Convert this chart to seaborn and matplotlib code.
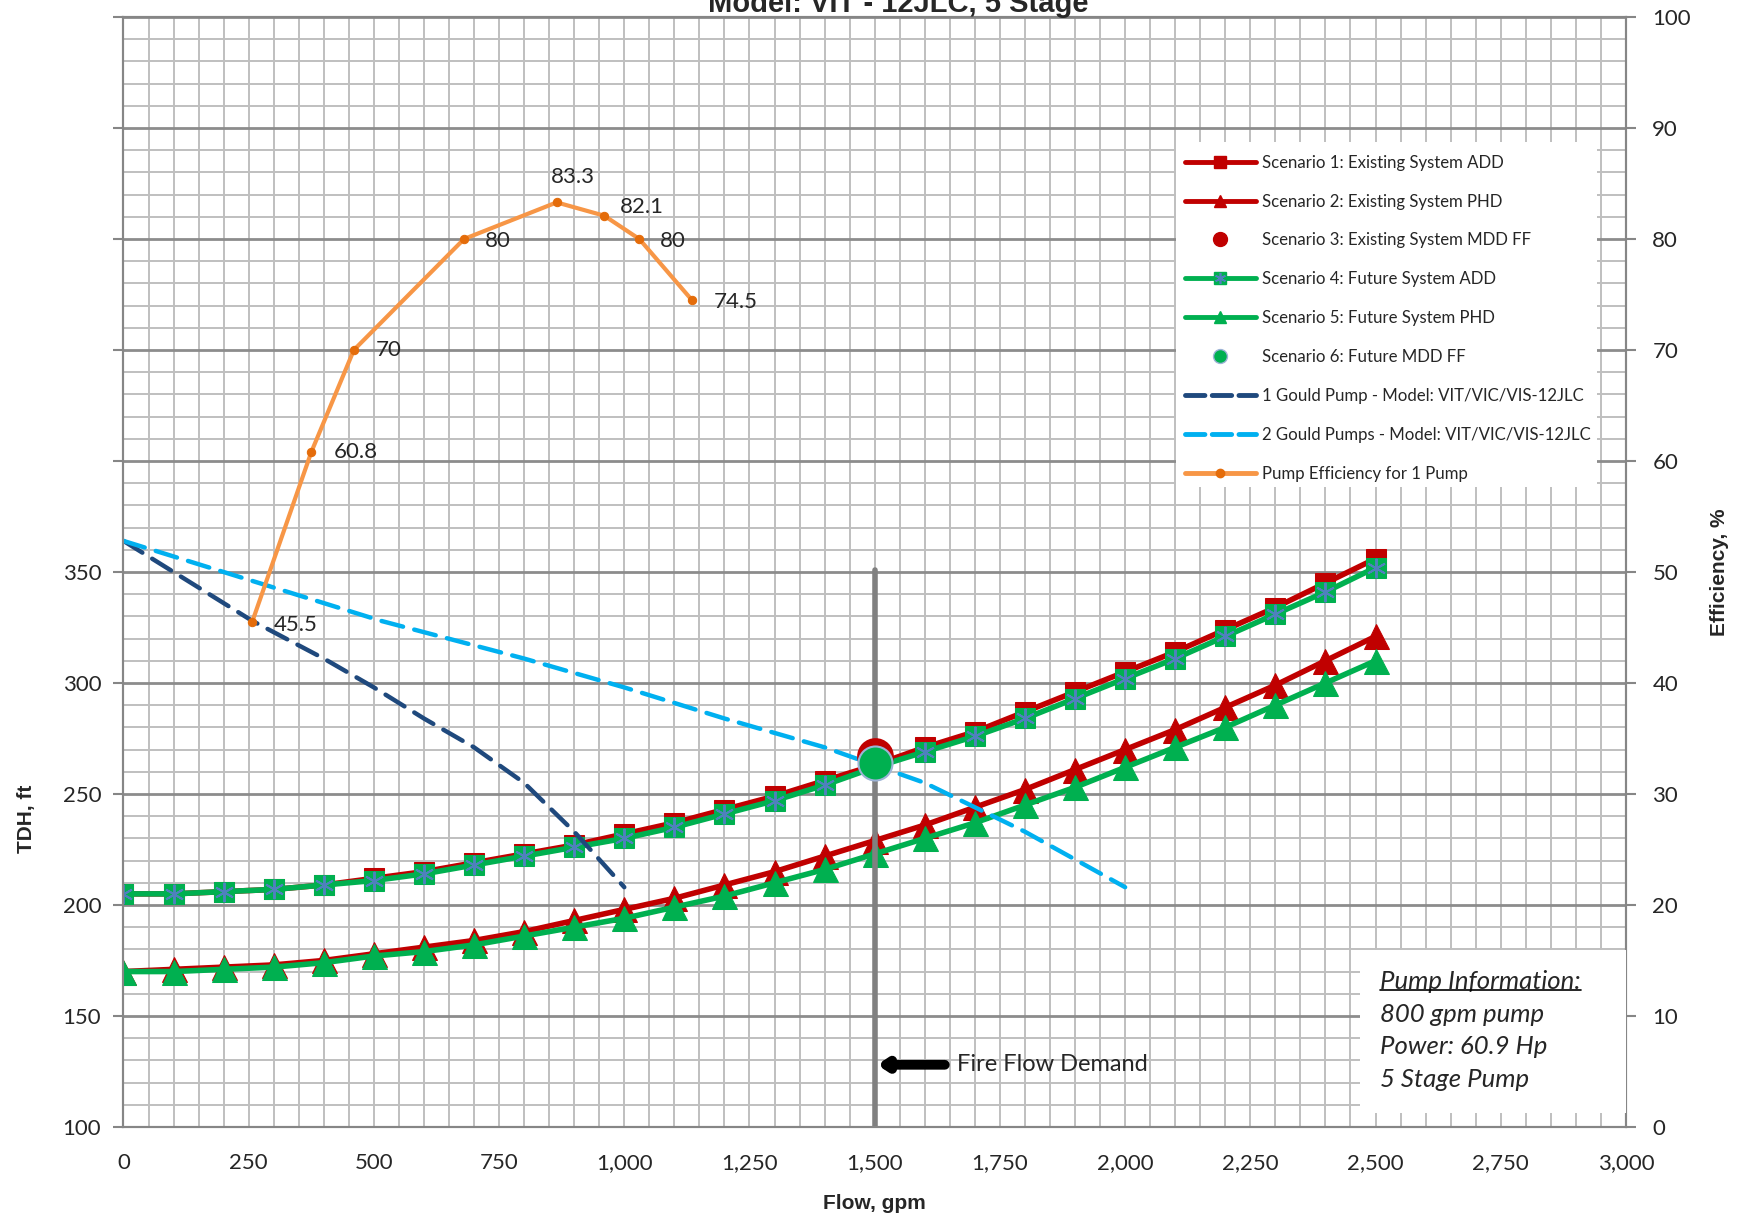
import seaborn as sns
import matplotlib.pyplot as plt
from matplotlib.lines import Line2D
from matplotlib.patches import Rectangle
from matplotlib.ticker import MultipleLocator, FuncFormatter
from matplotlib.legend_handler import HandlerTuple
from matplotlib.transforms import IdentityTransform

# system curves, flow in gpm, head in ft
flow = [0, 100, 200, 300, 400, 500, 600, 700, 800, 900, 1000, 1100, 1200,
        1300, 1400, 1500, 1600, 1700, 1800, 1900, 2000, 2100, 2200, 2300, 2400, 2500]
existing_add = [205, 205, 206, 207, 209, 212, 215, 219, 223, 227, 232, 237, 243,
                249, 256, 263, 271, 278, 287, 296, 305, 314, 324, 334, 345, 356]
existing_phd = [170, 171, 172, 173, 175, 178, 181, 184, 188, 193, 198, 203, 209,
                215, 222, 229, 236, 244, 252, 261, 270, 279, 289, 299, 310, 321]
future_add = [205, 205, 206, 207, 209, 211, 214, 218, 222, 226, 230, 235, 241,
              247, 254, 262, 269, 276, 284, 293, 302, 311, 321, 331, 341, 352]
future_phd = [170, 170, 171, 172, 174, 177, 179, 182, 186, 190, 194, 199, 204,
              210, 216, 223, 230, 237, 245, 253, 262, 271, 280, 290, 300, 310]

ff_flow = [1500]
existing_mdd_ff = [267]
future_mdd_ff = [264]
ff_line_head = [100, 351]

# pump curves
one_pump_flow = [0, 257, 400, 500, 600, 700, 800, 900, 1000]
one_pump_tdh = [364, 328, 311, 298, 284, 271, 255, 233, 208]
two_pump_flow = [0, 514, 800, 1000, 1200, 1400, 1600, 1800, 2000]
two_pump_tdh = [364, 328, 311, 298, 284, 271, 255, 233, 208]

# efficiency of 1 pump (right axis)
eff_flow = [257, 375, 460, 680, 865, 960, 1030, 1135]
eff_pct = [45.5, 60.8, 70, 80, 83.3, 82.1, 80, 74.5]
eff_text = ['45.5', '60.8', '70', '80', '83.3', '82.1', '80', '74.5']

left_ticks = [100, 150, 200, 250, 300, 350, 400, 450, 500, 550, 600]
left_labels = ['100', '150', '200', '250', '300', '350', '', '', '', '', '']

legend_labels = ['Scenario 1: Existing System ADD', 'Scenario 2: Existing System PHD',
                 'Scenario 3: Existing System MDD FF', 'Scenario 4: Future System ADD',
                 'Scenario 5: Future System PHD', 'Scenario 6: Future MDD FF',
                 '1 Gould Pump - Model: VIT/VIC/VIS-12JLC',
                 '2 Gould Pumps - Model: VIT/VIC/VIS-12JLC',
                 'Pump Efficiency for 1 Pump']
info_lines = ['Pump Information:', '800 gpm pump', 'Power: 60.9 Hp', '5 Stage Pump']

RED = '#C00000'
GREEN = '#00B050'
DARK = '#1F497D'
LIGHT = '#00B0F0'
ORANGE = '#F79646'
ORANGE_DK = '#E46C0A'
STAR = '#4F81BD'

sns.set_style('white')
plt.rcParams['font.family'] = ['Lato', 'DejaVu Sans']

fig = plt.figure(figsize=(17.44, 12.17), dpi=100)
ax = fig.add_axes([0.0708, 0.074, 0.8615, 0.912])

# system curves
sns.lineplot(x=flow, y=existing_add, ax=ax, color=RED, lw=4, marker='s',
             markersize=15, markeredgecolor=RED, zorder=3)
sns.lineplot(x=flow, y=existing_phd, ax=ax, color=RED, lw=4, marker='^',
             markersize=18, markeredgecolor=RED, zorder=3)
sns.lineplot(x=flow, y=future_add, ax=ax, color=GREEN, lw=4, marker='s',
             markersize=15, markeredgecolor=GREEN, zorder=4)
ax.plot(flow, future_add, ls='none', marker=(6, 2, 0), markersize=14,
        markeredgecolor=STAR, markeredgewidth=1.4, zorder=4)
sns.lineplot(x=flow, y=future_phd, ax=ax, color=GREEN, lw=4, marker='^',
             markersize=18, markeredgecolor=GREEN, zorder=4)

# pump curves
sns.lineplot(x=one_pump_flow, y=one_pump_tdh, ax=ax, color=DARK, lw=3.2,
             linestyle=(0, (5, 2.6)), dash_capstyle='round', zorder=5)
sns.lineplot(x=two_pump_flow, y=two_pump_tdh, ax=ax, color=LIGHT, lw=3.2,
             linestyle=(0, (5, 2.6)), dash_capstyle='round', zorder=5)

# fire flow line and points
ax.plot([ff_flow[0], ff_flow[0]], ff_line_head, color='#808080', lw=4, zorder=5)
sns.scatterplot(x=ff_flow, y=existing_mdd_ff, ax=ax, color=RED, s=600,
                edgecolor=RED, zorder=6)
sns.scatterplot(x=ff_flow, y=future_mdd_ff, ax=ax, color=GREEN, s=600,
                edgecolor='#9DB3D6', linewidth=1.5, zorder=7)

ax.annotate('', xy=(ff_flow[0] + 5, 128), xytext=(1640, 128),
            arrowprops=dict(arrowstyle='-|>,head_length=0.45,head_width=0.3',
                            lw=7, color='black', shrinkA=0, shrinkB=0), zorder=6)
ax.text(1665, 128, 'Fire Flow Demand', fontsize=17, va='center', ha='left', zorder=6)

ax.set_xlim(0, 3000)
ax.set_ylim(100, 600)
ax.set_xticks(range(0, 3001, 250))
ax.xaxis.set_major_formatter(FuncFormatter(lambda v, p: f'{int(v):,}'))
ax.set_yticks(left_ticks)
ax.set_yticklabels(left_labels)
ax.xaxis.set_minor_locator(MultipleLocator(50))
ax.yaxis.set_minor_locator(MultipleLocator(10))
ax.grid(True, which='minor', color='#BFBFBF', lw=1.4)
ax.grid(True, which='major', axis='x', color='#BFBFBF', lw=1.4)
ax.grid(True, which='major', axis='y', color='#8C8C8C', lw=2)
ax.set_axisbelow(True)
ax.tick_params(which='major', direction='out', length=7, width=1.5, color='#868686',
               labelsize=16, pad=9)
ax.tick_params(axis='x', which='major', pad=12)
ax.tick_params(which='minor', length=0)
for s in ax.spines.values():
    s.set_color('#868686')
    s.set_linewidth(1.5)

ax.set_xlabel('Flow, gpm', fontsize=15, fontweight='bold', family='Liberation Sans')
ax.set_ylabel('TDH, ft', fontsize=15, fontweight='bold', family='Liberation Sans')
ax.xaxis.set_label_coords(0.5, -0.06)
ax.yaxis.set_label_coords(-0.058, 0.278)

# efficiency on right axis
ax2 = ax.twinx()
sns.lineplot(x=eff_flow, y=eff_pct, ax=ax2, color=ORANGE, lw=3, marker='o',
             markersize=6, markerfacecolor=ORANGE_DK, markeredgecolor=ORANGE_DK, zorder=5)
offsets = [(22, -3), (22, 0), (22, 0), (21, -2), (-6, 25), (16, 9), (21, -2), (22, -2)]
for xv, yv, t, off in zip(eff_flow, eff_pct, eff_text, offsets):
    ax2.annotate(t, (xv, yv), xytext=off, textcoords='offset pixels',
                 fontsize=16, ha='left', va='center')
ax2.set_ylim(0, 100)
ax2.set_yticks(range(0, 101, 10))
ax2.tick_params(direction='out', length=7, width=1.5, color='#868686',
                labelsize=16, pad=12)
ax2.set_ylabel('Efficiency, %', fontsize=15, fontweight='bold', family='Liberation Sans')
ax2.yaxis.set_label_coords(1.056, 0.5)
for s in ax2.spines.values():
    s.set_color('#868686')
    s.set_linewidth(1.5)

# legend on a white box
ax2.add_patch(Rectangle((0.7005, 0.577), 0.2805, 0.31, transform=ax2.transAxes,
                        facecolor='white', edgecolor='none', zorder=8))
handles = [
    Line2D([], [], color=RED, lw=3.5, marker='s', ms=9),
    Line2D([], [], color=RED, lw=3.5, marker='^', ms=9),
    Line2D([], [], ls='none', color=RED, marker='o', ms=10),
    (Line2D([], [], color=GREEN, lw=3.5, marker='s', ms=9),
     Line2D([], [], ls='none', marker=(6, 2, 0), ms=8, mec=STAR, mew=1.2)),
    Line2D([], [], color=GREEN, lw=3.5, marker='^', ms=9),
    Line2D([], [], ls='none', color=GREEN, marker='o', ms=10, mec='#9DB3D6'),
    Line2D([], [], color=DARK, lw=3.5, ls=(0, (4, 1.5)), dash_capstyle='round'),
    Line2D([], [], color=LIGHT, lw=3.5, ls=(0, (4, 1.5)), dash_capstyle='round'),
    Line2D([], [], color=ORANGE, lw=3.5, marker='o', ms=6, mfc=ORANGE_DK, mec=ORANGE_DK),
]
leg = ax2.legend(handles, legend_labels, loc='upper left', bbox_to_anchor=(0.7065, 0.876),
                 frameon=False, fontsize=12.1, handlelength=4.2, handletextpad=0.4,
                 labelspacing=1.36, borderpad=0, borderaxespad=0,
                 handler_map={tuple: HandlerTuple(ndivide=1)})
leg.set_zorder(9)

# pump information box
ax2.add_patch(Rectangle((0.823, 0.0126), 0.177, 0.1464, transform=ax2.transAxes,
                        facecolor='white', edgecolor='none', zorder=8))
info_y = [0.1306, 0.1009, 0.0721, 0.0423]
info_texts = []
for line, yv in zip(info_lines, info_y):
    info_texts.append(ax2.text(0.8363, yv, line, transform=ax2.transAxes, fontsize=18.5,
                               style='italic', va='center', ha='left', zorder=9))

fig.text(0.515, 0.997, 'Model: VIT - 12JLC, 5 Stage', ha='center', va='center',
         fontsize=21, fontweight='bold', family='Liberation Sans')

fig.canvas.draw()
bb = info_texts[0].get_window_extent()
uy = bb.y0 + 0.16 * bb.height
fig.add_artist(Line2D([bb.x0, bb.x1], [uy, uy], color='black', lw=1.2,
                      transform=IdentityTransform()))

fig.savefig('out.png', dpi=100)
